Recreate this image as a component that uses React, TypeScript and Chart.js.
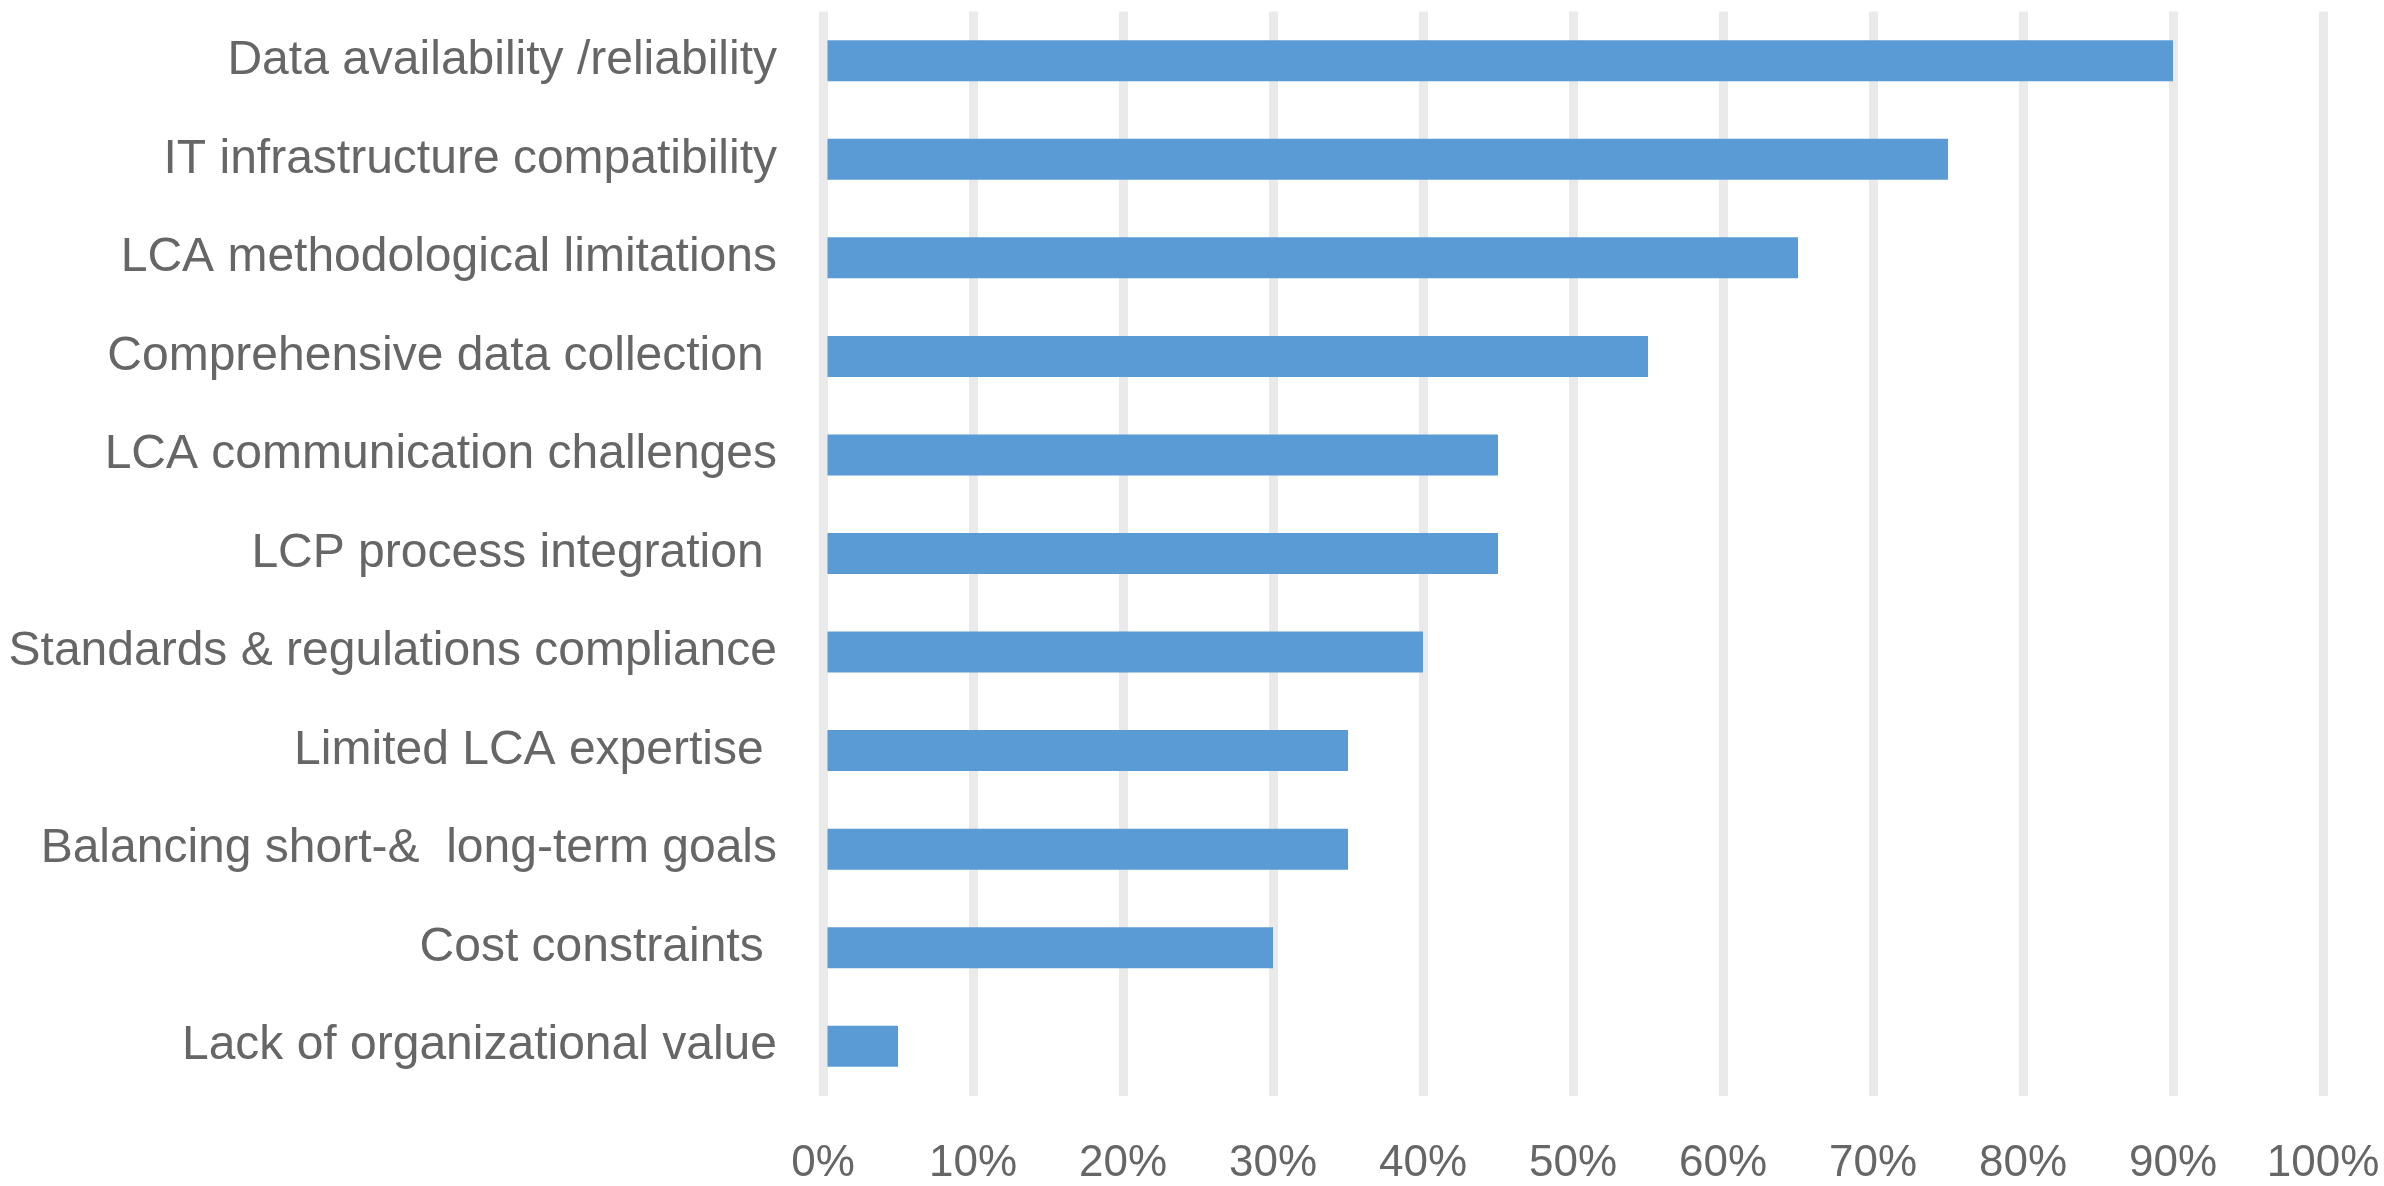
import React, { useEffect, useRef } from "react";
import { Chart, registerables } from "chart.js";

Chart.register(...registerables);

const categories: string[] = [
  "Data availability /reliability",
  "IT infrastructure compatibility",
  "LCA methodological limitations",
  "Comprehensive data collection ",
  "LCA communication challenges",
  "LCP process integration ",
  "Standards & regulations compliance",
  "Limited LCA expertise ",
  "Balancing short-&  long-term goals",
  "Cost constraints ",
  "Lack of organizational value",
];

const values: number[] = [90, 75, 65, 55, 45, 45, 40, 35, 35, 30, 5];

const xTickMin = 0;
const xTickMax = 100;
const xTickStep = 10;

export default function App() {
  const canvasRef = useRef<HTMLCanvasElement | null>(null);

  useEffect(() => {
    const canvas = canvasRef.current;
    if (!canvas) return;
    const chart = new Chart(canvas, {
      type: "bar",
      data: {
        labels: categories,
        datasets: [
          {
            data: values,
            backgroundColor: "#5B9BD5",
            borderWidth: 0,
            barPercentage: 0.416,
            categoryPercentage: 1,
          },
        ],
      },
      options: {
        indexAxis: "y",
        responsive: false,
        animation: false,
        devicePixelRatio: 1,
        layout: { padding: { left: 0, right: 61, top: 11.5, bottom: 0 } },
        plugins: {
          legend: { display: false },
          tooltip: { enabled: false },
        },
        scales: {
          x: {
            min: xTickMin,
            max: xTickMax,
            ticks: {
              stepSize: xTickStep,
              callback: (v: any) => v + "%",
              color: "#666666",
              font: { family: "Liberation Sans", size: 44 },
              padding: 42,
              maxRotation: 0,
            },
            grid: {
              color: "#EAEAEA",
              lineWidth: 9,
              drawTicks: false,
            },
            border: { display: false },
            afterFit: (scale: any) => {
              scale.height = 90.5;
              scale.paddingLeft = 0;
              scale.paddingRight = 0;
              scale.paddingTop = 0;
              scale.paddingBottom = 0;
            },
          },
          y: {
            ticks: {
              color: "#666666",
              font: { family: "Liberation Sans", size: 48 },
              padding: 46,
              autoSkip: false,
            },
            grid: { display: false, drawTicks: false },
            border: { display: false },
            afterFit: (scale: any) => {
              scale.width = 823;
              scale.paddingLeft = 0;
              scale.paddingRight = 0;
              scale.paddingTop = 0;
              scale.paddingBottom = 0;
            },
          },
        },
      },
    });
    return () => chart.destroy();
  }, []);

  return (
    <div
      style={{
        position: "fixed",
        left: 0,
        top: 0,
        width: 2384,
        height: 1186,
        background: "#ffffff",
      }}
    >
      <canvas ref={canvasRef} width={2384} height={1186} style={{ display: "block" }} />
    </div>
  );
}
